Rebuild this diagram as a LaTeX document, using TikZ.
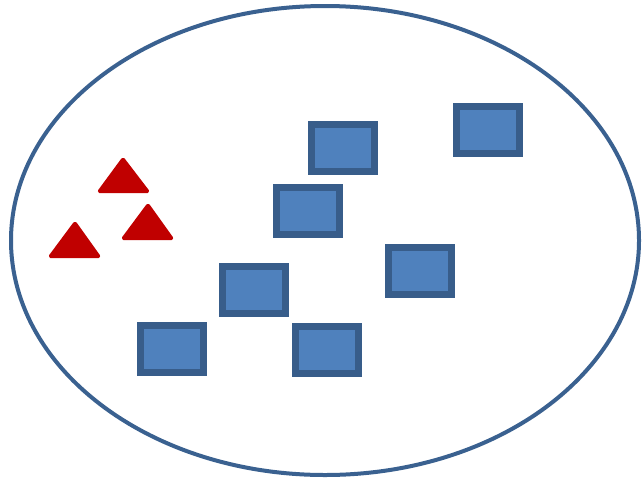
\documentclass[tikz,border=0pt]{standalone}
\usetikzlibrary{shapes.geometric}
\definecolor{edgeblue}{HTML}{3A6190}
\definecolor{boxfill}{HTML}{4F81BD}
\definecolor{boxedge}{HTML}{385D8A}
\definecolor{trired}{HTML}{C00000}
\tikzset{
  box/.style={rectangle, draw=boxedge, fill=boxfill, line width=7pt, minimum width=63pt, minimum height=47pt, inner sep=0pt},
  tri/.style={fill=trired, draw=trired, line width=2pt, rounded corners=1.5pt, line join=round},
}
\begin{document}
\begin{tikzpicture}[x=1pt,y=-1pt]
\useasboundingbox (0,0) rectangle (644,482);
\draw[edgeblue, line width=4pt] (325,240.5) ellipse [x radius=314, y radius=234.5];
\node[box] (b1) at (342.5,148) {};
\node[box] (b2) at (488,130) {};
\node[box] (b3) at (308,211) {};
\node[box] (b4) at (254,290) {};
\node[box] (b5) at (419.5,270.5) {};
\node[box] (b6) at (172,349) {};
\node[box] (b7) at (326.5,349.5) {};
\draw[tri] (123,158) -- (149,192) -- (98,192) -- cycle;
\draw[tri] (148,204) -- (173,239) -- (122,239) -- cycle;
\draw[tri] (75,222) -- (100,257) -- (49,257) -- cycle;
\end{tikzpicture}
\end{document}
